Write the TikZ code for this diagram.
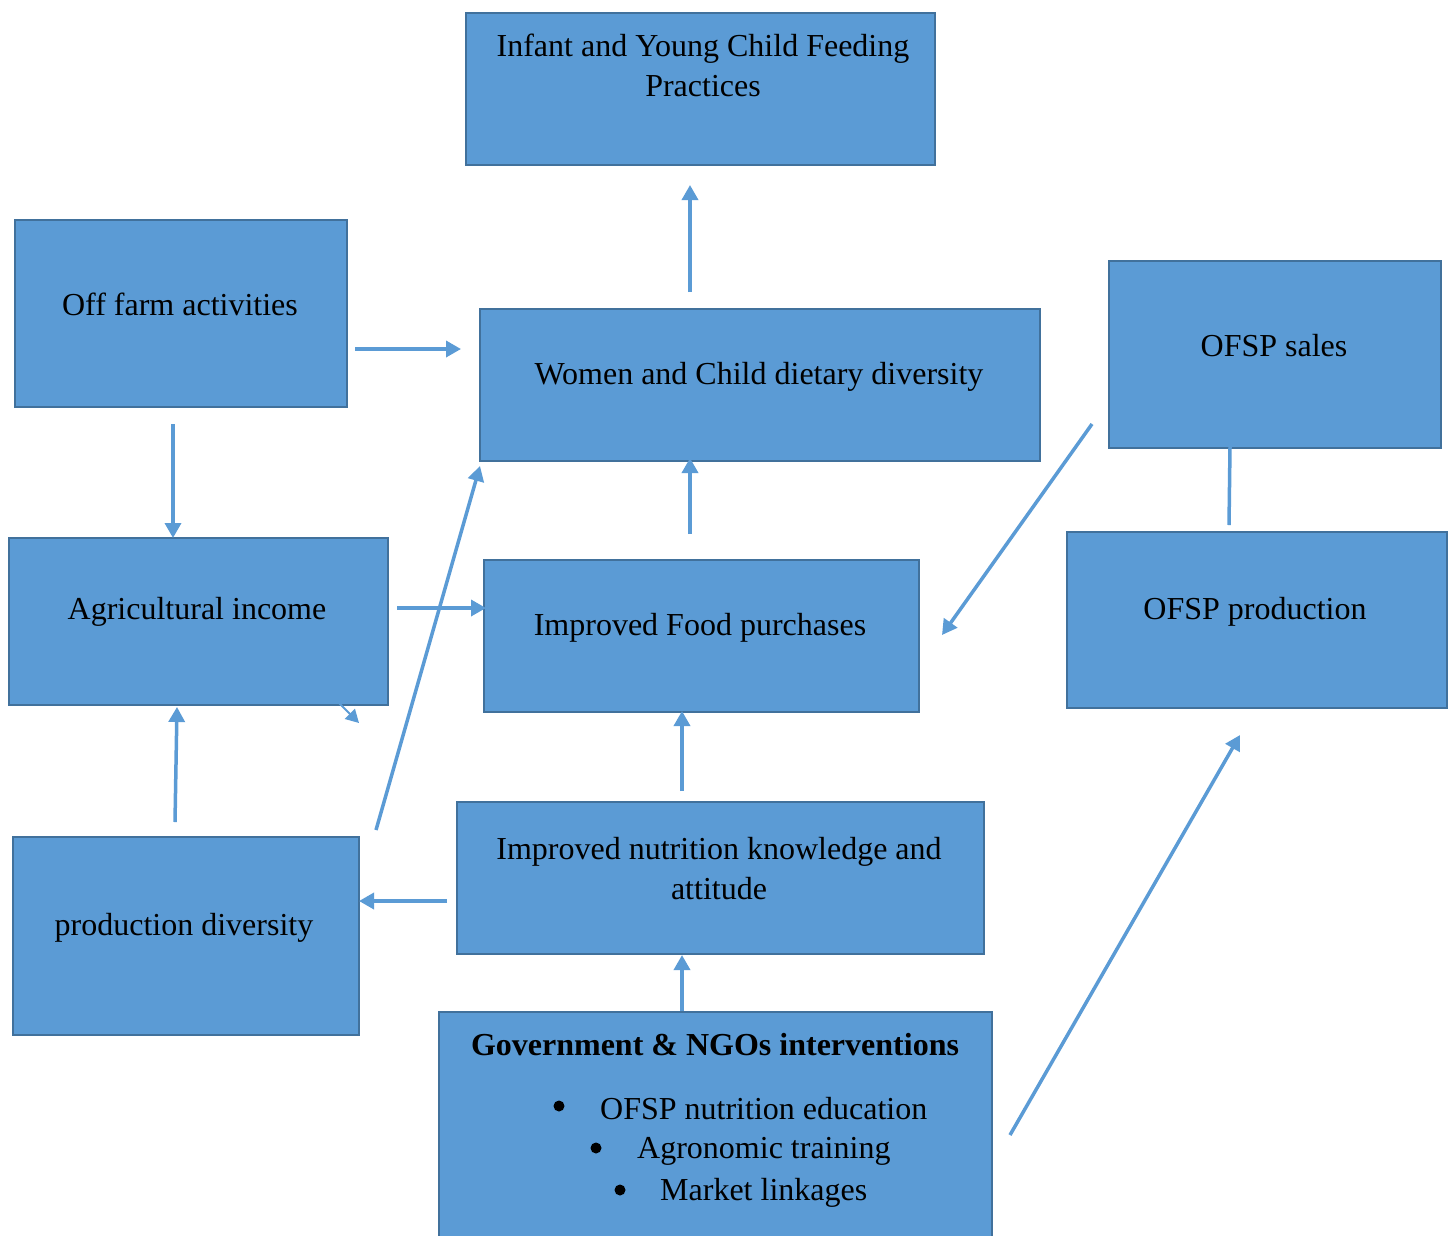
\documentclass[tikz,border=0pt]{standalone}
\usepackage{fontspec}
\setmainfont{Liberation Serif}
\usetikzlibrary{arrows.meta}
\definecolor{boxfill}{HTML}{5B9BD5}
\definecolor{boxline}{HTML}{41719C}
\tikzset{
  box/.style={draw=boxline, line width=2.2pt, fill=boxfill, inner sep=0pt},
  txt/.style={font=\fontsize{32}{40}\selectfont, align=center, inner sep=0pt},
  conn/.style={draw=boxfill, line width=3.5pt, -{Triangle[width=16pt,length=15pt]}},
  plain/.style={draw=boxfill, line width=3.5pt},
}
\newcommand{\boxat}[5]{% name, x1, y1, x2, y2
  \node[box, minimum width=#4-#2, minimum height=#5-#3, anchor=north west] (#1) at (#2,#3) {};}
\begin{document}
\begin{tikzpicture}[x=1pt,y=-1pt]
\useasboundingbox (0,0) rectangle (1453,1235);
% boxes
\boxat{infant}{465}{12}{934}{164}
\boxat{offfarm}{14}{219}{346}{406}
\boxat{women}{479}{308}{1039}{460}
\boxat{sales}{1108}{260}{1440}{447}
\boxat{agri}{8}{537}{387}{704}
\boxat{food}{483}{559}{918}{711}
\boxat{prod}{1066}{531}{1446}{707}
\boxat{know}{456}{801}{983}{953}
\boxat{div}{12}{836}{358}{1034}
\node[box, minimum width=553, minimum height=240, anchor=north west] (gov) at (438,1011) {};
% texts
\node[txt] (tinfant) at (703,65) {Infant and Young Child Feeding\\Practices};
\node[txt] (toff) at (180,304) {Off farm activities};
\node[txt] (twomen) at (759,377) {Women and Child dietary diversity};
\node[txt] (tsales) at (1274,346) {OFSP sales};
\node[txt] (tagri) at (197,612) {Agricultural income};
\node[txt] (tfood) at (700,628) {Improved Food purchases};
\node[txt] (tprod) at (1255,612) {OFSP production};
\node[txt] (tknow) at (719,869) {Improved nutrition knowledge and\\attitude};
\node[txt] (tdiv) at (184,928) {production diversity};
\node[txt, font=\fontsize{32}{40}\selectfont\bfseries] (tgov) at (715,1045) {Government \& NGOs interventions};
\node[txt, anchor=west] (b1) at (600,1109) {OFSP nutrition education};
\node[txt, anchor=west] (b2) at (637,1151) {Agronomic training};
\node[txt, anchor=west] (b3) at (660,1193) {Market linkages};
\fill (559,1106) circle (5.5);
\fill (596,1148) circle (5.5);
\fill (620,1190) circle (5.5);
% connector end points
\coordinate (a1s) at (690,292); \coordinate (a1e) at (690,185);
\coordinate (a2s) at (355,349); \coordinate (a2e) at (461,349);
\coordinate (a3s) at (173,424); \coordinate (a3e) at (173,538);
\coordinate (a4s) at (690,534); \coordinate (a4e) at (690,458);
\coordinate (a5s) at (397,608); \coordinate (a5e) at (486,608);
\coordinate (a6s) at (1092,424); \coordinate (a6e) at (942,635);
\coordinate (a7s) at (1229,525); \coordinate (a7e) at (1230,447);
\coordinate (a8s) at (339,703); \coordinate (a8e) at (359,723);
\coordinate (a9s) at (376,830); \coordinate (a9e) at (480,466);
\coordinate (a10s) at (175,822); \coordinate (a10e) at (177,707);
\coordinate (a11s) at (682,791); \coordinate (a11e) at (682,711);
\coordinate (a12s) at (447,901); \coordinate (a12e) at (359,901);
\coordinate (a13s) at (682,1011); \coordinate (a13e) at (682,955);
\coordinate (a14s) at (1010,1135); \coordinate (a14e) at (1240,735);
% connectors
\draw[conn] (a1s) -- (a1e);
\draw[conn] (a2s) -- (a2e);
\draw[conn] (a3s) -- (a3e);
\draw[conn] (a4s) -- (a4e);
\draw[conn] (a5s) -- (a5e);
\draw[conn] (a6s) -- (a6e);
\draw[plain] (a7s) -- (a7e);
\draw[draw=boxfill, line width=2pt, -{Triangle[width=14pt,length=13pt]}] (a8s) -- (a8e);
\draw[conn] (a9s) -- (a9e);
\draw[conn] (a10s) -- (a10e);
\draw[conn] (a11s) -- (a11e);
\draw[conn] (a12s) -- (a12e);
\draw[conn] (a13s) -- (a13e);
\draw[conn] (a14s) -- (a14e);
\end{tikzpicture}
\end{document}
